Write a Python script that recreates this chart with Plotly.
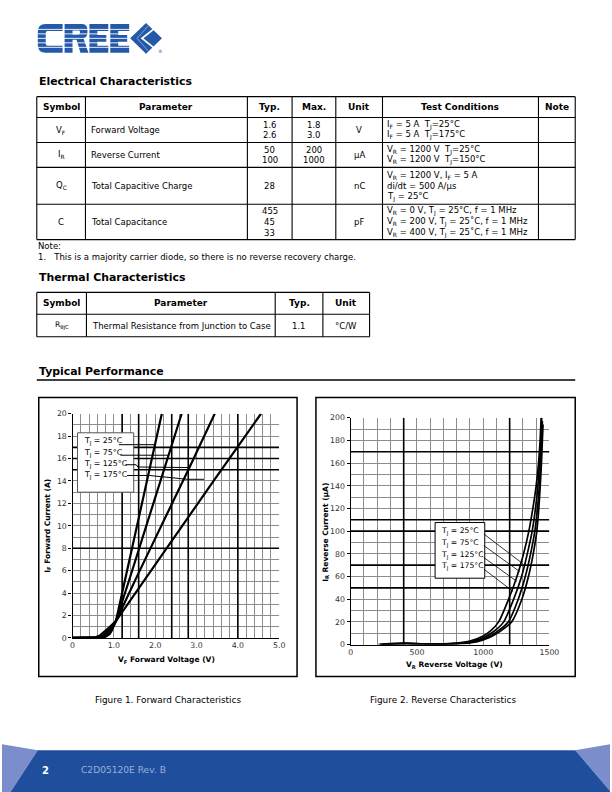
import re
import plotly.graph_objects as go

# ---------------- data ----------------
# Figure 1: forward characteristics  (V_F [V], I_F [A])
vf_25c = [0.00, 0.60, 0.70, 0.80, 0.90, 0.95, 1.00, 1.05, 1.20, 1.53, 1.99, 2.16]
if_25c = [0.0, 0.0, 0.02, 0.10, 0.35, 0.65, 1.05, 1.50, 4.0, 9.5, 17.2, 20.0]
vf_75c = [0.00, 0.55, 0.65, 0.75, 0.85, 0.95, 1.05, 1.40, 1.74, 2.33, 2.64]
if_75c = [0.0, 0.0, 0.03, 0.12, 0.35, 0.85, 1.50, 5.5, 9.5, 16.3, 20.0]
vf_125c = [0.00, 0.50, 0.60, 0.70, 0.80, 0.90, 1.05, 1.60, 2.09, 2.84, 3.44]
if_125c = [0.0, 0.0, 0.04, 0.15, 0.40, 0.85, 1.50, 5.8, 9.5, 15.3, 20.0]
vf_175c = [0.00, 0.45, 0.55, 0.65, 0.75, 0.85, 1.05, 1.80, 2.56, 3.43, 4.56]
if_175c = [0.0, 0.0, 0.05, 0.18, 0.45, 0.80, 1.50, 5.5, 9.5, 14.1, 20.0]

# Figure 2: reverse characteristics  (V_R [V], I_R [uA])
vr_25c = [210, 300, 400, 550, 700, 800, 900, 1000, 1060, 1117, 1192, 1255, 1305, 1345, 1375, 1400, 1418, 1430, 1438]
ir_25c = [0, 0.8, 1.2, 0.7, 0.6, 1.2, 3.0, 7.5, 12.5, 20, 40, 60, 80, 100, 120, 140, 160, 180, 200]
vr_75c = [220, 300, 400, 550, 700, 800, 900, 1000, 1080, 1155, 1230, 1290, 1333, 1370, 1395, 1413, 1426, 1436, 1442]
ir_75c = [0, 0.6, 1.0, 0.6, 0.5, 1.0, 2.4, 6.0, 11.5, 20, 40, 60, 80, 100, 120, 140, 160, 180, 200]
vr_125c = [230, 320, 420, 550, 700, 800, 900, 1000, 1100, 1190, 1265, 1318, 1358, 1390, 1410, 1424, 1434, 1442, 1447]
ir_125c = [0, 0.5, 0.9, 0.5, 0.4, 0.8, 1.8, 4.8, 11.0, 20, 40, 60, 80, 100, 120, 140, 160, 180, 197]
vr_175c = [240, 330, 430, 560, 700, 800, 900, 1000, 1100, 1215, 1292, 1342, 1378, 1405, 1420, 1431, 1440, 1447, 1452]
ir_175c = [0, 0.4, 0.8, 0.4, 0.3, 0.6, 1.4, 4.0, 9.5, 20, 40, 60, 80, 100, 120, 140, 160, 180, 194]

temp_labels = ["25°C", "75°C", "125°C", "175°C"]

fwd_ticks = [0, 1, 2, 3, 4, 5]
fwd_ticktext = ["0", "1.0", "2.0", "3.0", "4.0", "5.0"]
rev_ticks = [0, 500, 1000, 1500]
rev_ticktext = ["0", "500", "1000", "1500"]

# table contents
elec_header = ["Symbol", "Parameter", "Typ.", "Max.", "Unit", "Test Conditions", "Note"]
elec_symbols = ["V<sub>F</sub>", "I<sub>R</sub>", "Q<sub>C</sub>", "C"]
elec_params = ["Forward Voltage", "Reverse Current", "Total Capacitive Charge", "Total Capacitance"]
elec_typ = [["1.6", "2.6"], ["50", "100"], ["28"], ["455", "45", "33"]]
elec_max = [["1.8", "3.0"], ["200", "1000"], [], []]
elec_unit = ["V", "μA", "nC", "pF"]
elec_cond = [
    ["I<sub>F</sub> = 5 A  T<sub>J</sub>=25°C", "I<sub>F</sub> = 5 A  T<sub>J</sub>=175°C"],
    ["V<sub>R</sub> = 1200 V  T<sub>J</sub>=25°C", "V<sub>R</sub> = 1200 V  T<sub>J</sub>=150°C"],
    ["V<sub>R</sub> = 1200 V, I<sub>F</sub> = 5 A", "di/dt = 500 A/μs", "T<sub>J</sub> = 25°C"],
    ["V<sub>R</sub> = 0 V, T<sub>J</sub> = 25°C, f = 1 MHz",
     "V<sub>R</sub> = 200 V, T<sub>J</sub> = 25˚C, f = 1 MHz",
     "V<sub>R</sub> = 400 V, T<sub>J</sub> = 25˚C, f = 1 MHz"],
]
therm_header = ["Symbol", "Parameter", "Typ.", "Unit"]
therm_row = ["R<sub>θJC</sub>", "Thermal Resistance from Junction to Case", "1.1", "°C/W"]

# ---------------- helpers ----------------
W, H = 612, 792          # design coordinates (page pixels)
FIG_W, FIG_H = 620, 798  # rendered figure size (compensates the capture scaling)
DY = -2.0                # small vertical correction
FONT = "DejaVu Sans"
BODY = 8.5


def X(px):
    return px / W


def Y(py):
    return 1 - (py + DY) / H


fig = go.Figure()


def text(t, x, y, size=BODY, bold=False, anchor="center", color="black", **kw):
    fig.add_annotation(text=("<b>" + t + "</b>" if bold else t), x=X(x), y=Y(y),
                       xref="paper", yref="paper", xanchor=anchor, yanchor="middle",
                       showarrow=False, font=dict(family=FONT, size=size, color=color), **kw)


def line(x0, y0, x1, y1, w=1.0, color="black"):
    fig.add_shape(type="line", xref="paper", yref="paper", x0=X(x0), y0=Y(y0), x1=X(x1), y1=Y(y1),
                  line=dict(color=color, width=w), layer="above")


def path(d, fill=None, color=None, w=0):
    toks = re.findall(r"[A-Za-z]|-?\d+(?:\.\d+)?", d)
    out, nums = [], []
    for t in toks:
        if t.isalpha():
            out.append(t)
        else:
            nums.append(float(t))
            if len(nums) == 2:
                out.append("%.5f,%.5f" % (X(nums[0]), Y(nums[1])))
                nums = []
    fig.add_shape(type="path", xref="paper", yref="paper", path=" ".join(out),
                  fillcolor=fill if fill else "rgba(0,0,0,0)",
                  line=dict(color=color if color else "rgba(0,0,0,0)", width=w), layer="above")


def rect(x0, y0, x1, y1, w=1.2, color="black", fill=None):
    fig.add_shape(type="rect", xref="paper", yref="paper", x0=X(x0), y0=Y(y1), x1=X(x1), y1=Y(y0),
                  line=dict(color=color, width=w), fillcolor=fill if fill else "rgba(0,0,0,0)",
                  layer="above")


# ---------------- traces ----------------
fwd = [(vf_25c, if_25c), (vf_75c, if_75c), (vf_125c, if_125c), (vf_175c, if_175c)]
rev = [(vr_25c, ir_25c), (vr_75c, ir_75c), (vr_125c, ir_125c), (vr_175c, ir_175c)]
for (v, i), lab in zip(fwd, temp_labels):
    fig.add_trace(go.Scatter(x=v, y=i, mode="lines", name=lab, xaxis="x", yaxis="y",
                             line=dict(color="black", width=2.2), showlegend=False, hoverinfo="skip"))
for (v, i), lab in zip(rev, temp_labels):
    fig.add_trace(go.Scatter(x=v, y=i, mode="lines", name=lab, xaxis="x2", yaxis="y2",
                             line=dict(color="black", width=1.7, shape="spline", smoothing=0.6),
                             showlegend=False, hoverinfo="skip"))

GRID = "#8c8c8c"
tickfont = dict(family=FONT, size=7.8, color="#333333")


def axis(domain, rng, tickvals, ticktext, minor, ticks="", anchor=None):
    d = dict(domain=domain, range=rng, tickvals=tickvals, ticktext=ticktext,
             showgrid=True, gridcolor=GRID, gridwidth=1, zeroline=False,
             showline=True, linecolor="black", linewidth=1.3, ticks=ticks, ticklen=3,
             tickcolor="black", tickfont=tickfont, fixedrange=True,
             minor=dict(tickmode="linear", tick0=0, dtick=minor, showgrid=True,
                        gridcolor=GRID, gridwidth=1, ticks=""))
    if anchor:
        d["anchor"] = anchor
    return d


fig.update_layout(
    width=FIG_W, height=FIG_H, margin=dict(l=0, r=0, t=0, b=0),
    paper_bgcolor="white", plot_bgcolor="rgba(0,0,0,0)",
    xaxis=axis([X(71), X(279)], [0, 5], fwd_ticks, fwd_ticktext, 0.2, anchor="y"),
    yaxis=axis([Y(638.3), Y(413.3)], [0, 20], list(range(0, 21, 2)),
               [str(v) for v in range(0, 21, 2)], 1, ticks="outside", anchor="x"),
    xaxis2=axis([X(351), X(551)], [0, 1500], rev_ticks, rev_ticktext, 100, anchor="y2"),
    yaxis2=axis([Y(645), Y(417.3)], [0, 200], list(range(0, 201, 20)),
                [str(v) for v in range(0, 201, 20)], 10, ticks="outside", anchor="x2"),
)

# dark (heavy) grid lines visible in the scanned charts
for xv in [1.2, 1.6, 2.4, 2.8, 4.0]:
    fig.add_shape(type="line", xref="x", yref="y", x0=xv, x1=xv, y0=0, y1=20,
                  line=dict(color="black", width=1.6), layer="between")
for yv in [8, 15, 16, 17]:
    fig.add_shape(type="line", xref="x", yref="y", x0=0, x1=5, y0=yv, y1=yv,
                  line=dict(color="black", width=1.6), layer="between")
for xv in [400, 1200]:
    fig.add_shape(type="line", xref="x2", yref="y2", x0=xv, x1=xv, y0=0, y1=200,
                  line=dict(color="black", width=1.6), layer="between")
for yv in [50, 70, 100, 110, 170]:
    fig.add_shape(type="line", xref="x2", yref="y2", x0=0, x1=1500, y0=yv, y1=yv,
                  line=dict(color="black", width=1.6), layer="between")

# legend boxes + leader lines
fig.add_shape(type="rect", xref="x", yref="y", x0=0.12, x1=1.48, y0=13.0, y1=18.3,
              fillcolor="white", line=dict(color="#555555", width=1), layer="above")
for lab, yy in zip(temp_labels, [17.5, 16.45, 15.45, 14.45]):
    fig.add_annotation(xref="x", yref="y", x=0.22, y=yy, xanchor="left", yanchor="middle",
                       text="T<sub>J</sub> = " + lab, showarrow=False,
                       font=dict(family=FONT, size=7.8, color="black"))
fwd_leaders = [
    ([1.12, 1.99], [17.24, 17.24]),
    ([1.16, 2.33], [16.3, 16.3]),
    ([1.28, 1.54, 1.58, 2.80], [15.45, 15.45, 15.25, 15.2]),
    ([1.32, 1.86, 2.78, 3.18], [14.49, 14.49, 14.15, 14.15]),
]
for xs, ys in fwd_leaders:
    d = "M %g,%g " % (xs[0], ys[0]) + " ".join("L %g,%g" % (a, b) for a, b in zip(xs[1:], ys[1:]))
    fig.add_shape(type="path", xref="x", yref="y", path=d, line=dict(color="black", width=1),
                  layer="above")

fig.add_shape(type="rect", xref="x2", yref="y2", x0=637, x1=1012, y0=58.5, y1=107.6,
              fillcolor="white", line=dict(color="black", width=1), layer="above")
for lab, yy in zip(temp_labels, [99.4, 89.2, 78.6, 68.4]):
    fig.add_annotation(xref="x2", yref="y2", x=664, y=yy, xanchor="left", yanchor="middle",
                       text="T<sub>J</sub> = " + lab, showarrow=False,
                       font=dict(family=FONT, size=7.7, color="black"))
rev_leaders = [((1005, 97.5), (1296, 71.6)), ((1005, 87.3), (1276, 64.3)),
               ((1005, 76.7), (1256, 55.6)), ((1005, 66.5), (1226, 46.8))]
for (x0, y0), (x1, y1) in rev_leaders:
    fig.add_shape(type="line", xref="x2", yref="y2", x0=x0, y0=y0, x1=x1, y1=y1,
                  line=dict(color="black", width=0.8), layer="above")

# axis titles
text("I<sub>F</sub> Forward Current (A)", 46, 526, size=7.5, bold=True, textangle=-90)
text("V<sub>F</sub> Forward Voltage (V)", 166, 660, size=7.5, bold=True)
text("I<sub>R</sub> Reverse Current (μA)", 326, 532, size=7.5, bold=True, textangle=-90)
text("V<sub>R</sub> Reverse Voltage (V)", 455, 666, size=7.5, bold=True)

# chart frames and captions
rect(37, 397, 297, 677, w=1.5)
rect(316, 397, 577, 677, w=1.5)
text("Figure 1. Forward Characteristics", 167, 701, size=8.9)
text("Figure 2. Reverse Characteristics", 444, 701, size=8.9)

# ---------------- logo ----------------
BLUE = "#2458a8"
path("M 61 22 L 44 22 Q 36 22 36 30 L 36 43 Q 36 51 44 51 L 61 51 L 61 44 L 46 44 Q 44 44 44 42 "
     "L 44 31 Q 44 29 46 29 L 61 29 Z", fill=BLUE)
path("M 63 22 L 80 22 Q 86 22 86 28 L 86 31 Q 86 35 82 36.5 L 87 51 L 79 51 L 75 38 L 71 38 "
     "L 71 51 L 63 51 Z M 71 28.5 L 77 28.5 Q 78.5 28.5 78.5 30 L 78.5 31 Q 78.5 32.5 77 32.5 "
     "L 71 32.5 Z", fill=BLUE)
for dx in (0, 21):
    path("M %g 22 L %g 22 L %g 29 L %g 29 L %g 33 L %g 33 L %g 40 L %g 40 L %g 44 L %g 44 "
         "L %g 51 L %g 51 Z" % (88 + dx, 107 + dx, 107 + dx, 96 + dx, 96 + dx, 105 + dx, 105 + dx,
                                96 + dx, 96 + dx, 107 + dx, 107 + dx, 88 + dx), fill=BLUE)
for yy in (27.5, 32, 36.5, 41, 45.5):
    line(35, yy, 129, yy, w=0.9, color="white")
path("M 129 36.5 L 145 21 L 161 36.5 L 145 52 Z", fill=BLUE)
path("M 153 27 L 141 36.5 L 153 46", color="white", w=1.8)
path("M 147 24 L 136 36.5 L 147 49", color="#9db4e0", w=0.8)
text("®", 160, 50, size=4.5, color=BLUE)

# ---------------- Electrical table ----------------
TITLE = 10.9
HEAD = 9.0
text("Electrical Characteristics", 35, 80, size=TITLE, bold=True, anchor="left")
ecols = [35, 84, 247, 292, 336, 383, 540, 577]
erows = [95, 116, 141, 166, 203, 238.5]
for xc in ecols:
    line(xc, erows[0], xc, erows[-1], w=1.1)
for yr in erows:
    line(ecols[0], yr, ecols[-1], yr, w=1.1)
for i, h in enumerate(elec_header):
    text(h, (ecols[i] + ecols[i + 1]) / 2, 105.5, size=HEAD, bold=True)
LH = 10.8


def lines_at(items, x, yc, anchor):
    n = len(items)
    for k, t in enumerate(items):
        text(t, x, yc + (k - (n - 1) / 2) * LH, anchor=anchor)


for r in range(4):
    yc = (erows[r + 1] + erows[r + 2]) / 2
    lines_at([elec_symbols[r]], (ecols[0] + ecols[1]) / 2, yc, "center")
    lines_at([elec_params[r]], 88, yc, "left")
    lines_at(elec_typ[r], (ecols[2] + ecols[3]) / 2, yc, "center")
    lines_at(elec_max[r], (ecols[3] + ecols[4]) / 2, yc, "center")
    lines_at([elec_unit[r]], (ecols[4] + ecols[5]) / 2, yc, "center")
    lines_at(elec_cond[r], 386, yc, "left")

text("Note:", 34, 245, anchor="left")
text("1.   This is a majority carrier diode, so there is no reverse recovery charge.", 34, 255.5,
     anchor="left")

# ---------------- Thermal table ----------------
text("Thermal Characteristics", 35, 277, size=TITLE, bold=True, anchor="left")
tcols = [35, 85, 275, 323, 370]
trows = [291.5, 313.5, 336]
for xc in tcols:
    line(xc, trows[0], xc, trows[-1], w=1.1)
for yr in trows:
    line(tcols[0], yr, tcols[-1], yr, w=1.1)
for i, h in enumerate(therm_header):
    text(h, (tcols[i] + tcols[i + 1]) / 2, 302.5, size=HEAD, bold=True)
text(therm_row[0], (tcols[0] + tcols[1]) / 2, 325, size=7.6)
text(therm_row[1], 89, 325, anchor="left")
text(therm_row[2], (tcols[2] + tcols[3]) / 2, 325)
text(therm_row[3], (tcols[3] + tcols[4]) / 2, 325)

# ---------------- Typical performance header ----------------
text("Typical Performance", 35, 371, size=TITLE, bold=True, anchor="left")
line(35, 379.5, 577, 379.5, w=1.6)

# ---------------- footer ----------------
path("M 0 745 L 36 751 L 4 800 L 0 800 Z", fill="#7b8dca")
path("M 577 751 L 612 745 L 612 792 Z", fill="#7b8dca")
path("M 36 751 L 577 751 L 612 792 L 612 800 L 4 800 Z", fill="#1f4f9c")
text("2", 44, 771, size=10, bold=True, color="white")
text("C2D05120E Rev. B", 78, 771, size=9.1, color="#9aaed8", anchor="left")

fig.write_html("out.html", config={"displayModeBar": False},
               post_script="document.body.style.margin='0';document.body.style.overflow='hidden';")
